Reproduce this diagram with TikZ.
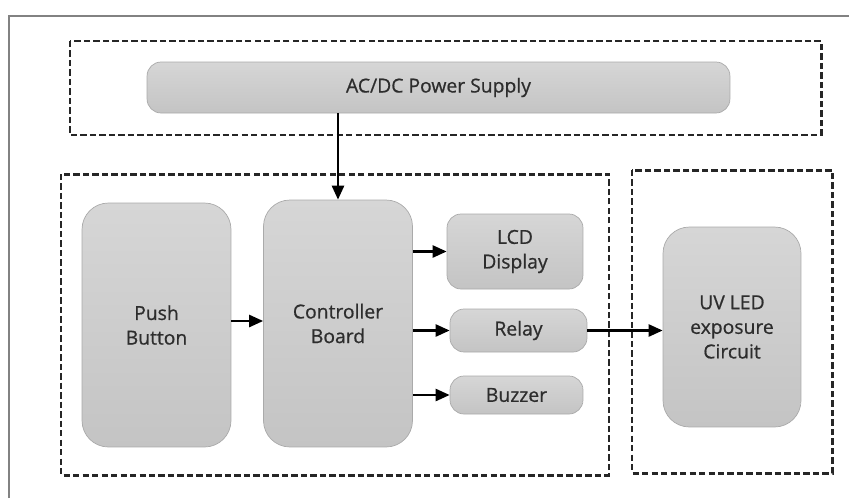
\documentclass[tikz,border=0pt]{standalone}
\usepackage{fontspec}
\setmainfont{Open Sans}
\definecolor{boxtop}{RGB}{214, 214, 214}
\definecolor{boxbot}{RGB}{196, 196, 196}
\definecolor{boxline}{RGB}{170, 170, 170}
\definecolor{labelgray}{RGB}{45, 45, 45}
\definecolor{framegray}{RGB}{130, 130, 130}
\usepackage{tikz}
\usetikzlibrary{shapes, arrows.meta, positioning, calc}
\tikzset{
  blockbox/.style={draw=boxline, top color=boxtop, bottom color=boxbot, rounded corners=8pt,
    font=\fontsize{11}{14}\selectfont\addfontfeature{FakeBold=0.7}, text=labelgray, align=center, inner sep=2pt},
  groupbox/.style={draw=black!85, line width=1.7pt, dash pattern=on 3.6pt off 1.8pt},
  flowarrow/.style={draw=black, line width=1.4pt, -{Triangle[length=2.8mm, width=2.4mm]}}
}

\begin{document}
\begin{tikzpicture}[x=0.02cm, y=-0.02cm]
  \useasboundingbox (0, 0) rectangle (849, 498);

  % Outer frame
  \draw[framegray, line width=0.8pt] (9, 498) -- (9, 16) -- (849, 16);

  % Dashed groups
  \draw[groupbox] (70, 41) rectangle (821, 135);
  \draw[groupbox] (61, 174) rectangle (609, 475);
  \draw[groupbox] (632, 170) rectangle (832, 473);

  % Power supply
  \node[blockbox, minimum width=11.66cm, minimum height=1.02cm] (supply) at (438.5, 87.5) {AC/DC Power Supply};

  % Main blocks
  \node[blockbox, rounded corners=15pt, minimum width=2.98cm, minimum height=4.88cm] (push) at (156.5, 325) {Push\\Button};
  \node[blockbox, rounded corners=15pt, minimum width=2.98cm, minimum height=4.94cm] (ctrl) at (338, 323.5) {Controller\\Board};

  % Outputs
  \node[blockbox, minimum width=2.72cm, minimum height=1.5cm] (lcd) at (515, 251.5) {LCD\\Display};
  \node[blockbox, minimum width=2.74cm, minimum height=0.86cm] (relay) at (518.5, 330.5) {Relay};
  \node[blockbox, minimum width=2.66cm, minimum height=0.76cm] (buzzer) at (516.5, 395) {Buzzer};

  % UV circuit
  \node[blockbox, rounded corners=15pt, minimum width=2.76cm, minimum height=4cm] (uv) at (732, 327) {UV LED\\exposure\\Circuit};

  % Connections
  \draw[flowarrow] (ctrl.north |- supply.south) -- (ctrl.north);
  \draw[flowarrow] (push.east |- 0, 321) -- (ctrl.west |- 0, 321);
  \draw[flowarrow] (ctrl.east |- lcd.west) -- (lcd.west);
  \draw[flowarrow] (ctrl.east |- relay.west) -- (relay.west);
  \draw[flowarrow] (ctrl.east |- buzzer.west) -- (buzzer.west);
  \draw[flowarrow] (relay.east) -- (uv.west |- relay.east);
\end{tikzpicture}
\end{document}
